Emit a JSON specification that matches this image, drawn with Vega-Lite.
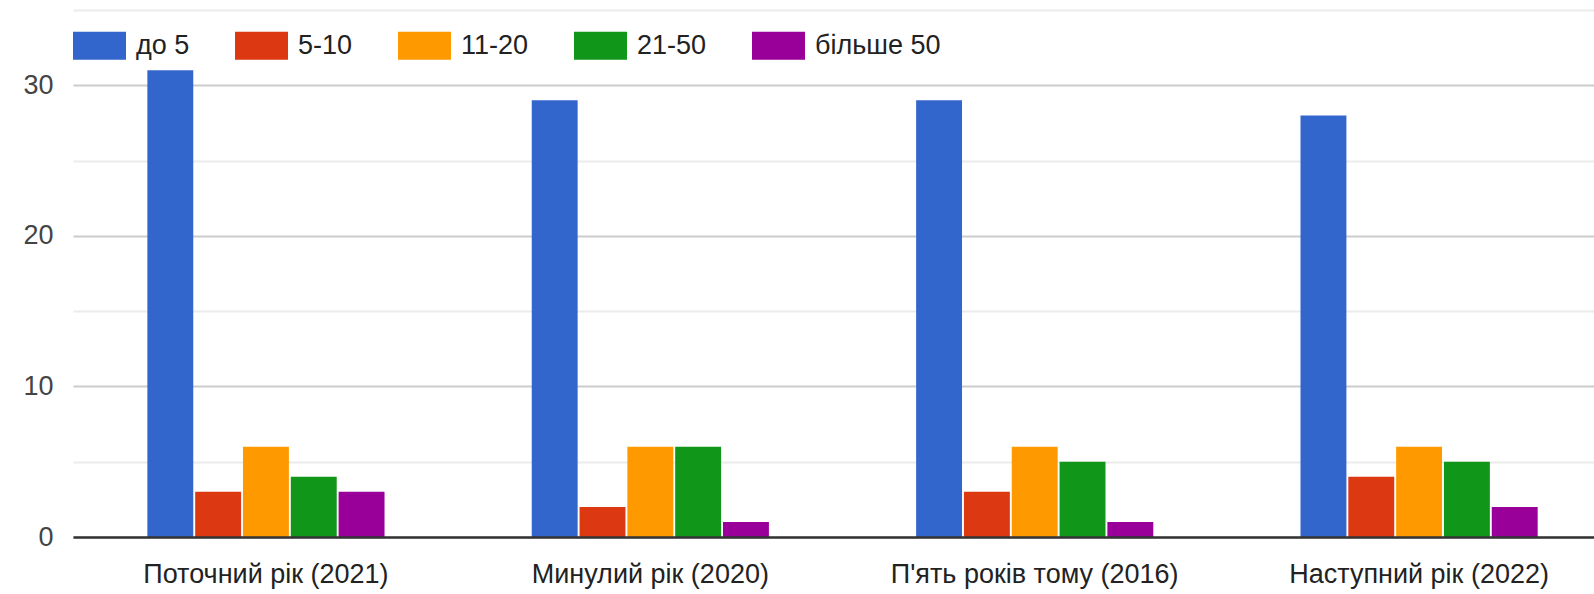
{
  "$schema": "https://vega.github.io/schema/vega-lite/v6.json",
  "width": 1521,
  "height": 527,
  "autosize": {"type": "none"},
  "padding": {"left": 73, "top": 10, "right": 0, "bottom": 57},
  "background": "white",
  "config": {
    "font": "Liberation Sans",
    "view": {"stroke": null}
  },
  "data": {
    "values": [
      {"group": "Поточний рік (2021)", "cat": "до 5", "value": 31},
      {"group": "Поточний рік (2021)", "cat": "5-10", "value": 3},
      {"group": "Поточний рік (2021)", "cat": "11-20", "value": 6},
      {"group": "Поточний рік (2021)", "cat": "21-50", "value": 4},
      {"group": "Поточний рік (2021)", "cat": "більше 50", "value": 3},
      {"group": "Минулий рік (2020)", "cat": "до 5", "value": 29},
      {"group": "Минулий рік (2020)", "cat": "5-10", "value": 2},
      {"group": "Минулий рік (2020)", "cat": "11-20", "value": 6},
      {"group": "Минулий рік (2020)", "cat": "21-50", "value": 6},
      {"group": "Минулий рік (2020)", "cat": "більше 50", "value": 1},
      {"group": "П'ять років тому (2016)", "cat": "до 5", "value": 29},
      {"group": "П'ять років тому (2016)", "cat": "5-10", "value": 3},
      {"group": "П'ять років тому (2016)", "cat": "11-20", "value": 6},
      {"group": "П'ять років тому (2016)", "cat": "21-50", "value": 5},
      {"group": "П'ять років тому (2016)", "cat": "більше 50", "value": 1},
      {"group": "Наступний рік (2022)", "cat": "до 5", "value": 28},
      {"group": "Наступний рік (2022)", "cat": "5-10", "value": 4},
      {"group": "Наступний рік (2022)", "cat": "11-20", "value": 6},
      {"group": "Наступний рік (2022)", "cat": "21-50", "value": 5},
      {"group": "Наступний рік (2022)", "cat": "більше 50", "value": 2}
    ]
  },
  "mark": {"type": "bar"},
  "encoding": {
    "x": {
      "field": "group",
      "type": "nominal",
      "sort": ["Поточний рік (2021)", "Минулий рік (2020)", "П'ять років тому (2016)", "Наступний рік (2022)"],
      "scale": {"paddingInner": 0.383, "paddingOuter": 0.17, "align": 0.569},
      "axis": {
        "title": null,
        "labelAngle": 0,
        "labelFontSize": 27,
        "labelColor": "#222222",
        "labelPadding": 24,
        "labelLimit": 400,
        "ticks": false,
        "domainColor": "#333333",
        "domainWidth": 2.5,
        "zindex": 1
      }
    },
    "xOffset": {
      "field": "cat",
      "type": "nominal",
      "sort": ["до 5", "5-10", "11-20", "21-50", "більше 50"],
      "scale": {"paddingInner": 0.04, "paddingOuter": 0}
    },
    "y": {
      "field": "value",
      "type": "quantitative",
      "scale": {"domain": [0, 35], "nice": false},
      "axis": {
        "title": null,
        "values": [0, 5, 10, 15, 20, 25, 30, 35],
        "labelExpr": "datum.value % 10 === 0 && datum.value < 35 ? datum.label : ''",
        "labelFontSize": 27,
        "labelColor": "#444444",
        "labelPadding": 20,
        "ticks": false,
        "domain": false,
        "gridColor": {"condition": {"test": "datum.value % 10 === 0", "value": "#cccccc"}, "value": "#ebebeb"},
        "gridWidth": 2
      }
    },
    "color": {
      "field": "cat",
      "type": "nominal",
      "sort": ["до 5", "5-10", "11-20", "21-50", "більше 50"],
      "scale": {
        "domain": ["до 5", "5-10", "11-20", "21-50", "більше 50"],
        "range": ["#3366cc", "#dc3912", "#ff9900", "#109618", "#990099"]
      },
      "legend": {
        "title": null,
        "orient": "none",
        "legendX": 0,
        "legendY": 9,
        "direction": "horizontal",
        "symbolType": "M-1,-0.53H1V0.53H-1Z",
        "symbolSize": 2809,
        "symbolStrokeWidth": 0,
        "symbolOpacity": 1,
        "labelFontSize": 27,
        "labelColor": "#222222",
        "labelOffset": 10,
        "columnPadding": 45,
        "labelLimit": 300
      }
    }
  }
}
